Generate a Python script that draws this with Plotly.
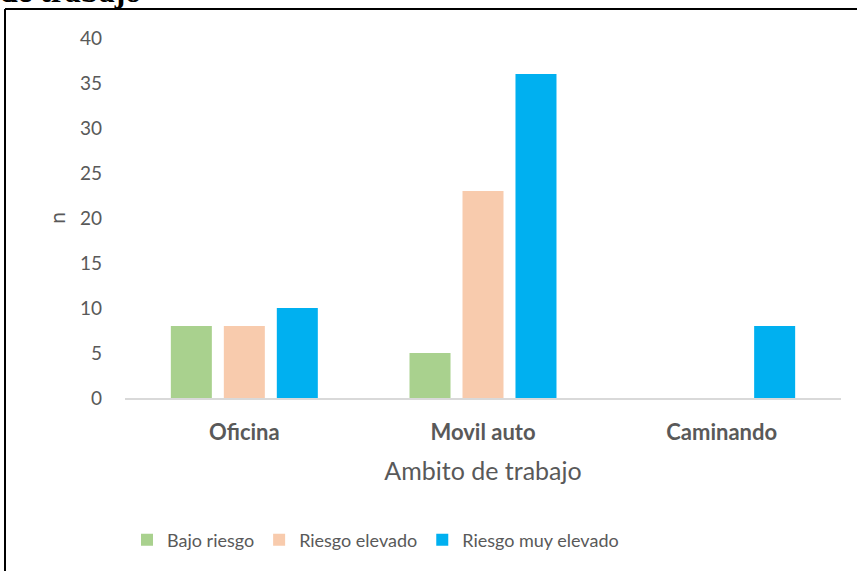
import plotly.graph_objects as go

categories = ["Oficina", "Movil auto", "Caminando"]
series_names = ["Bajo riesgo", "Riesgo elevado", "Riesgo muy elevado"]
bajo = [8, 5, 0]
elevado = [8, 23, 0]
muy_elevado = [10, 36, 8]
colors = ["#A9D18E", "#F8CBAD", "#00B0F0"]
y_ticks = [0, 5, 10, 15, 20, 25, 30, 35, 40]

W, H = 857, 571
L, R, T, B = 125, 16, 38, 173
pw, ph = W - L - R, H - T - B

def px_x(x):
    return (x - L) / pw

def px_y(y):
    return (H - B - y) / ph

fig = go.Figure()
for name, vals, col in zip(series_names, [bajo, elevado, muy_elevado], colors):
    fig.add_trace(go.Bar(x=categories, y=vals, name=name, marker_color=col,
                         marker_line_width=0))

font_main = "Lato, 'Open Sans', sans-serif"
fig.update_layout(
    width=W, height=H,
    margin=dict(l=L, r=R, t=T, b=B, pad=0),
    paper_bgcolor="white", plot_bgcolor="white",
    barmode="group", bargap=0.334, bargroupgap=0.226,
    font=dict(family=font_main, color="#595959", size=18),
    xaxis=dict(
        showline=True, linecolor="#D9D9D9", linewidth=2,
        ticks="", showgrid=False, ticklabelstandoff=14,
        tickfont=dict(size=22, color="#595959", family=font_main, weight="bold"),
        title=dict(text="Ambito de trabajo", font=dict(size=25, color="#595959"), standoff=18),
    ),
    yaxis=dict(
        range=[0, 40], tickvals=y_ticks, showgrid=False, zeroline=False,
        showline=False, ticks="", ticklabelstandoff=22,
        tickfont=dict(size=19, color="#595959"),
        title=dict(text="n", font=dict(size=21, color="#595959"), standoff=8),
    ),
    legend=dict(orientation="h", x=px_x(127), xanchor="left", y=px_y(540), yanchor="middle",
                font=dict(size=18, color="#595959"), traceorder="normal"),
    showlegend=True,
)

# frame lines (partially visible chart border)
fig.add_shape(type="line", xref="paper", yref="paper",
              x0=px_x(5), x1=px_x(W + 2), y0=px_y(9), y1=px_y(9),
              line=dict(color="black", width=2))
fig.add_shape(type="line", xref="paper", yref="paper",
              x0=px_x(5), x1=px_x(5), y0=px_y(9), y1=px_y(H + 2),
              line=dict(color="black", width=2))

# cut-off document heading
fig.add_annotation(text="<b>de trabajo</b>", xref="paper", yref="paper",
                   x=px_x(-2), y=px_y(10.5), xanchor="left", yanchor="bottom",
                   showarrow=False,
                   font=dict(family="Liberation Serif, 'Times New Roman', serif",
                             size=32, color="black"))

fig.write_html("out.html", config={"displayModeBar": False},
               post_script="document.body.style.margin='0';document.body.style.overflow='hidden';")
